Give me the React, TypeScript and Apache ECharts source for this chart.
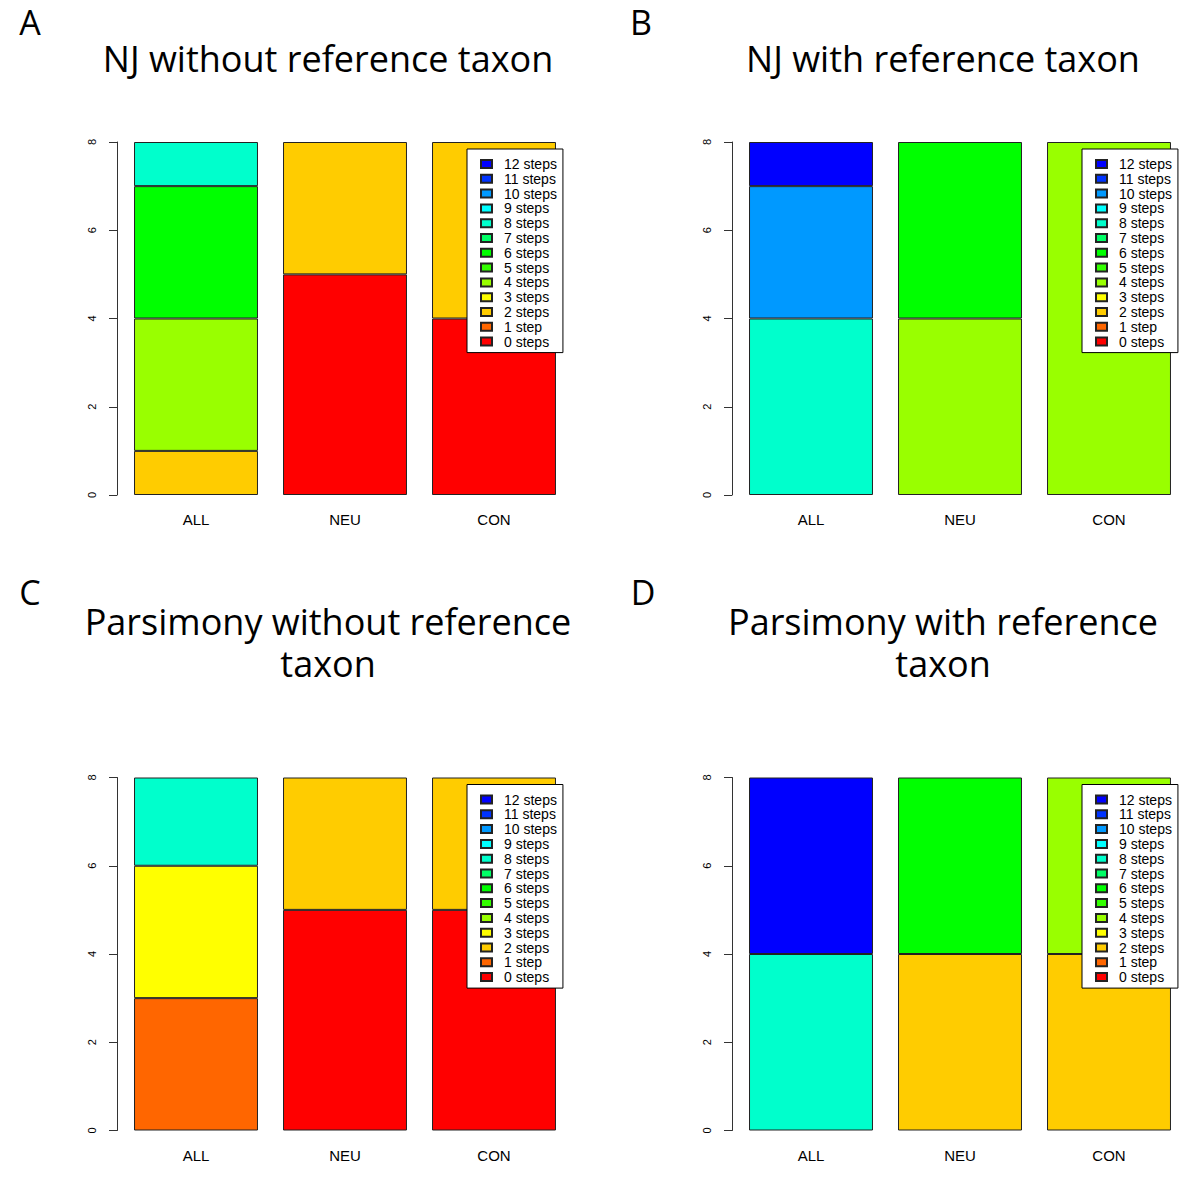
import React, { useEffect, useRef } from "react";
import * as echarts from "echarts";

const categories = ["ALL", "NEU", "CON"];
const stepNames = [
  "0 steps", "1 step", "2 steps", "3 steps", "4 steps", "5 steps", "6 steps",
  "7 steps", "8 steps", "9 steps", "10 steps", "11 steps", "12 steps",
];
const stepColors = [
  "#FF0000", "#FF6600", "#FFCC00", "#FFFF00", "#99FF00", "#33FF00", "#00FF00",
  "#00FF66", "#00FFCC", "#00FFFF", "#0099FF", "#0033FF", "#0000FF",
];
const yTicks = [0, 2, 4, 6, 8];

// rows = steps 0..12, columns = ALL, NEU, CON
const countsA = [
  [0, 5, 4], [0, 0, 0], [1, 3, 4], [0, 0, 0], [3, 0, 0], [0, 0, 0], [3, 0, 0],
  [0, 0, 0], [1, 0, 0], [0, 0, 0], [0, 0, 0], [0, 0, 0], [0, 0, 0],
];
const countsB = [
  [0, 0, 0], [0, 0, 0], [0, 0, 0], [0, 0, 0], [0, 4, 8], [0, 0, 0], [0, 4, 0],
  [0, 0, 0], [4, 0, 0], [0, 0, 0], [3, 0, 0], [0, 0, 0], [1, 0, 0],
];
const countsC = [
  [0, 5, 5], [3, 0, 0], [0, 3, 3], [3, 0, 0], [0, 0, 0], [0, 0, 0], [0, 0, 0],
  [0, 0, 0], [2, 0, 0], [0, 0, 0], [0, 0, 0], [0, 0, 0], [0, 0, 0],
];
const countsD = [
  [0, 0, 0], [0, 0, 0], [0, 4, 4], [0, 0, 0], [0, 0, 4], [0, 0, 0], [0, 4, 0],
  [0, 0, 0], [4, 0, 0], [0, 0, 0], [0, 0, 0], [0, 0, 0], [4, 0, 0],
];
const panelCounts = [countsA, countsB, countsC, countsD];
const panelLetters = ["A", "B", "C", "D"];
const panelTitles = [
  "NJ without reference taxon",
  "NJ with reference taxon",
  "Parsimony without reference\ntaxon",
  "Parsimony with reference\ntaxon",
];

// layout
const panelX = [0, 615, 0, 615];
const panelY = [0, 0, 635.5, 635.5];
const titleTop = [37, 37, 600, 600];
const letterPos = [[30, 22], [641, 22], [30, 592], [643, 592]];

export default function App() {
  const ref = useRef<HTMLDivElement>(null);
  useEffect(() => {
    if (!ref.current) return;
    const chart = echarts.init(ref.current, null, { renderer: "svg" });
    const grids: any[] = [];
    const xAxes: any[] = [];
    const yAxes: any[] = [];
    const series: any[] = [];
    const legends: any[] = [];
    const titles: any[] = [];
    const graphics: any[] = [];
    const labelFont = "Liberation Sans, Arial, Helvetica, sans-serif";

    panelCounts.forEach((counts, p) => {
      const ox = panelX[p];
      const oy = panelY[p];
      grids.push({ left: ox + 121.5, top: oy + 142, width: 447, height: 353 });
      xAxes.push({
        type: "category",
        gridIndex: p,
        data: categories,
        axisLine: { show: false },
        axisTick: { show: false },
        axisLabel: { color: "#000", fontSize: 15, fontFamily: labelFont, margin: 17 },
      });
      yAxes.push({
        type: "value",
        gridIndex: p,
        min: 0,
        max: yTicks[yTicks.length - 1],
        interval: 2,
        offset: 4.5,
        splitLine: { show: false },
        axisLine: { show: true, lineStyle: { color: "#333", width: 1 } },
        axisTick: { show: true, length: 8, lineStyle: { color: "#333", width: 1 } },
        axisLabel: {
          color: "#000", fontSize: 11, fontFamily: labelFont, rotate: 90, margin: 20,
        },
      });
      counts.forEach((row, s) => {
        series.push({
          type: "bar",
          name: stepNames[s],
          xAxisIndex: p,
          yAxisIndex: p,
          stack: "panel" + p,
          barCategoryGap: "16.8%",
          data: row.map((v) => (v === 0 ? null : v)),
          itemStyle: { color: stepColors[s], borderColor: "#222", borderWidth: 1 },
          emphasis: { disabled: true },
        });
      });
      legends.push({
        orient: "vertical",
        left: ox + 467,
        top: oy + 149,
        data: stepNames.slice().reverse(),
        selectedMode: false,
        backgroundColor: "#fff",
        borderColor: "#000",
        borderWidth: 1,
        borderRadius: 0,
        padding: [8, 6, 4, 13],
        itemWidth: 11,
        itemHeight: 8,
        itemGap: 0.8,
        itemTextGap: 13,
        icon: "rect",
        textStyle: {
          color: "#000", fontSize: 14, lineHeight: 14, fontFamily: labelFont,
          padding: [0, 0, 0, 7],
        },
      });
      titles.push({
        text: panelTitles[p],
        left: ox + 328,
        top: titleTop[p],
        textAlign: "center",
        padding: 0,
        textStyle: {
          color: "#000",
          fontSize: 36,
          fontWeight: "normal",
          lineHeight: 42,
          fontFamily: "Open Sans, Noto Sans, sans-serif",
        },
      });
      graphics.push({
        type: "text",
        x: letterPos[p][0],
        y: letterPos[p][1],
        style: {
          text: panelLetters[p],
          fill: "#000",
          fontSize: 34,
          fontFamily: "Open Sans, Noto Sans, sans-serif",
          textAlign: "center",
          textVerticalAlign: "middle",
        },
      });
    });

    chart.setOption({
      animation: false,
      backgroundColor: "#fff",
      title: titles,
      grid: grids,
      xAxis: xAxes,
      yAxis: yAxes,
      legend: legends,
      series,
      graphic: graphics,
    });
    return () => chart.dispose();
  }, []);
  return (
    <div
      ref={ref}
      style={{ position: "fixed", left: 0, top: 0, width: 1200, height: 1189, background: "#fff" }}
    />
  );
}
